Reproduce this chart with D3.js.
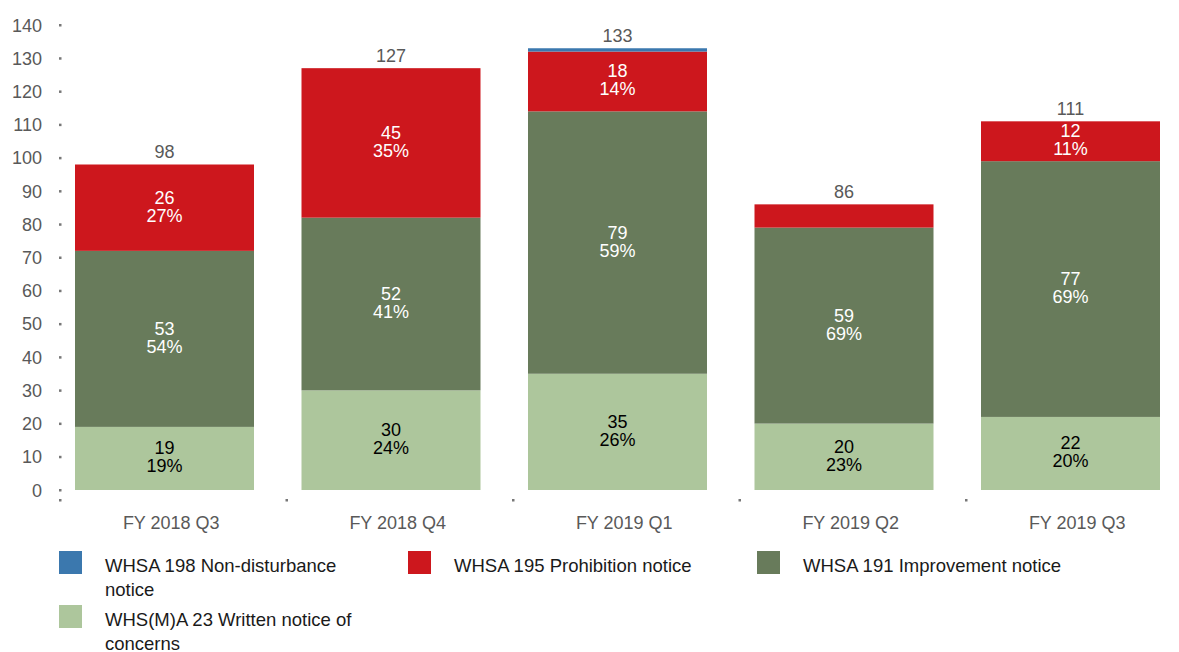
<html>
<head>
<meta charset="utf-8">
<style>
  body { margin: 0; background: #fff; }
  text { font-family: "Liberation Sans", Arial, sans-serif; }
</style>
</head>
<body>
<svg width="1179" height="652"></svg>
<script src="https://d3js.org/d3.v7.min.js"></script>
<script>
// quarters along the x axis
var quarters = ["FY 2018 Q3", "FY 2018 Q4", "FY 2019 Q1", "FY 2019 Q2", "FY 2019 Q3"]

// notice counts per quarter, bottom to top
var written     = [19, 30, 35, 20, 22]
var improvement = [53, 52, 79, 59, 77]
var prohibition = [26, 45, 18, 7, 12]
var nonDisturb  = [0, 0, 1, 0, 0]

// share labels as printed on the bars (null = not shown)
var writtenPct     = ["19%", "24%", "26%", "23%", "20%"]
var improvementPct = ["54%", "41%", "59%", "69%", "69%"]
var prohibitionPct = ["27%", "35%", "14%", null, "11%"]

var totals = [98, 127, 133, 86, 111]
var yTicks = [0, 10, 20, 30, 40, 50, 60, 70, 80, 90, 100, 110, 120, 130, 140]

var series = [
  { key: "written",     label: "WHS(M)A 23 Written notice of concerns", values: written,     pct: writtenPct,     color: "#adc69c", text: "#000" },
  { key: "improvement", label: "WHSA 191 Improvement notice",           values: improvement, pct: improvementPct, color: "#687b5b", text: "#fff" },
  { key: "prohibition", label: "WHSA 195 Prohibition notice",           values: prohibition, pct: prohibitionPct, color: "#cd171d", text: "#fff" },
  { key: "nonDisturb",  label: "WHSA 198 Non-disturbance notice",       values: nonDisturb,  pct: null,           color: "#3b78ae", text: "#fff" }
]

var svg = d3.select("svg")

var x = d3.scaleBand().domain(quarters).range([60, 1192.5]).padding(0)
var y = d3.scaleLinear().domain([0, 140]).range([490, 25])
var barOffset = 15, barWidth = 179

// stack the data
var rows = quarters.map(function (q, i) {
  var r = { quarter: q }
  series.forEach(function (s) { r[s.key] = s.values[i] })
  return r
})
var stacked = d3.stack().keys(series.map(function (s) { return s.key }))(rows)

// y axis: dots for ticks
var yAxis = svg.append("g")
yAxis.selectAll("rect").data(yTicks).enter().append("rect")
  .attr("x", 59).attr("y", function (d) { return y(d) - 1 })
  .attr("width", 2.5).attr("height", 2.5).attr("fill", "#777")
yAxis.selectAll("text").data(yTicks).enter().append("text")
  .attr("x", 42).attr("y", function (d) { return y(d) + 6.5 })
  .attr("text-anchor", "end").attr("font-size", 18).attr("fill", "#595959")
  .text(function (d) { return d })

// x axis: category boundary dots and labels
var xAxis = svg.append("g")
xAxis.selectAll("rect").data(quarters).enter().append("rect")
  .attr("x", function (d) { return x(d) - 1 }).attr("y", 499)
  .attr("width", 2.5).attr("height", 2.5).attr("fill", "#777")
xAxis.selectAll("text").data(quarters).enter().append("text")
  .attr("x", function (d) { return x(d) + x.bandwidth() / 2 - 2 }).attr("y", 529)
  .attr("text-anchor", "middle").attr("font-size", 18).attr("fill", "#595959")
  .text(function (d) { return d })

// bars
var layers = svg.append("g").selectAll("g").data(stacked).enter().append("g")
  .attr("fill", function (d, i) { return series[i].color })
layers.selectAll("rect").data(function (d) { return d }).enter().append("rect")
  .attr("x", function (d) { return x(d.data.quarter) + barOffset })
  .attr("width", barWidth)
  .attr("y", function (d) { return y(d[1]) })
  .attr("height", function (d) { return y(d[0]) - y(d[1]) })

// segment labels: value and share
var labels = svg.append("g")
stacked.forEach(function (layer, si) {
  var s = series[si]
  if (!s.pct) return
  layer.forEach(function (d, i) {
    if (!s.pct[i]) return
    var cx = x(d.data.quarter) + barOffset + barWidth / 2
    var mid = (y(d[0]) + y(d[1])) / 2
    var t = labels.append("text").attr("text-anchor", "middle")
      .attr("font-size", 18).attr("fill", s.text)
    t.append("tspan").attr("x", cx).attr("y", mid - 4).text(s.values[i])
    t.append("tspan").attr("x", cx).attr("y", mid + 14).text(s.pct[i])
  })
})

// totals above the bars
svg.append("g").selectAll("text").data(quarters).enter().append("text")
  .attr("x", function (d) { return x(d) + barOffset + barWidth / 2 })
  .attr("y", function (d, i) { return y(totals[i]) - 6.5 })
  .attr("text-anchor", "middle").attr("font-size", 18).attr("fill", "#595959")
  .text(function (d, i) { return totals[i] })

// legend
var legendItems = [
  { s: series[3], x: 59,  y: 551, lines: ["WHSA 198 Non-disturbance", "notice"] },
  { s: series[2], x: 408, y: 551, lines: ["WHSA 195 Prohibition notice"] },
  { s: series[1], x: 757, y: 551, lines: ["WHSA 191 Improvement notice"] },
  { s: series[0], x: 59,  y: 605, lines: ["WHS(M)A 23 Written notice of", "concerns"] }
]
var legend = svg.append("g").selectAll("g").data(legendItems).enter().append("g")
legend.append("rect")
  .attr("x", function (d) { return d.x }).attr("y", function (d) { return d.y })
  .attr("width", 23).attr("height", 23)
  .attr("fill", function (d) { return d.s.color })
legend.each(function (d) {
  var t = d3.select(this).append("text").attr("font-size", 18.5).attr("fill", "#1a1a1a")
  d.lines.forEach(function (line, k) {
    t.append("tspan").attr("x", d.x + 46).attr("y", d.y + 20.5 + k * 24).text(line)
  })
})
</script>
</body>
</html>
